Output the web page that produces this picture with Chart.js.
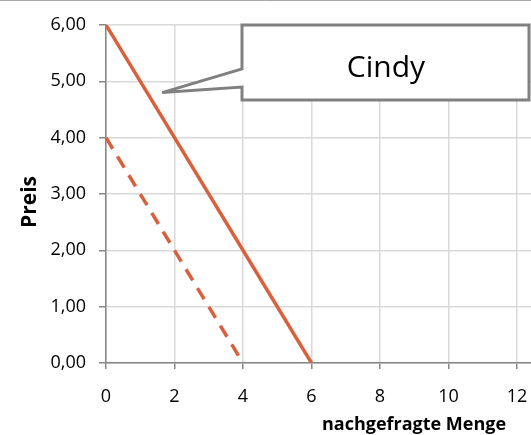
<!DOCTYPE html>
<html lang="de">
<head>
<meta charset="UTF-8">
<title>Nachfrage Cindy</title>
<script src="https://cdn.jsdelivr.net/npm/chart.js"></script>
<style>
  html, body { margin: 0; padding: 0; background: #fff; }
  #wrap { position: relative; width: 531px; height: 435px; }
</style>
</head>
<body>
<div id="wrap"><canvas id="chart" width="531" height="435"></canvas></div>
<script>
// data
const mengeCindy = [0, 6];
const preisCindy = [6, 0];
const mengeAlt = [0, 4];
const preisAlt = [4, 0];
const xTicks = [0, 2, 4, 6, 8, 10, 12];
const yTicks = [0, 1, 2, 3, 4, 5, 6];
const calloutText = 'Cindy';

const lineColor = '#d9603b';
const font = "'Open Sans', 'DejaVu Sans', sans-serif";

function toPoints(xs, ys) {
  return xs.map((x, i) => ({ x: x, y: ys[i] }));
}

// speech-bubble callout, axis titles, top frame line
const extras = {
  id: 'extras',
  afterDraw(chart) {
    const ctx = chart.ctx;
    const xs = chart.scales.x, ys = chart.scales.y;
    ctx.save();
    // top frame
    ctx.strokeStyle = '#a6a6a6';
    ctx.lineWidth = 1;
    ctx.beginPath();
    ctx.moveTo(0, 0.5); ctx.lineTo(531, 0.5);
    ctx.stroke();

    // callout box
    const tipX = xs.getPixelForValue(1.64), tipY = ys.getPixelForValue(4.8);
    const L = 242, T = 25, R = 529, B = 100;
    ctx.beginPath();
    ctx.moveTo(L, T);
    ctx.lineTo(R, T);
    ctx.lineTo(R, B);
    ctx.lineTo(L, B);
    ctx.lineTo(L, 87);
    ctx.lineTo(tipX, tipY);
    ctx.lineTo(L, 69);
    ctx.closePath();
    ctx.fillStyle = '#fff';
    ctx.fill();
    ctx.strokeStyle = '#808080';
    ctx.lineWidth = 3;
    ctx.lineJoin = 'miter';
    ctx.miterLimit = 2;
    ctx.stroke();
    ctx.fillStyle = '#000';
    ctx.font = "30px " + font;
    ctx.textAlign = 'center';
    ctx.textBaseline = 'alphabetic';
    ctx.fillText(calloutText, 386, 77);

    // x axis title
    ctx.font = "bold 18px " + font;
    ctx.fillText('nachgefragte Menge', 414, 430);

    // y axis title
    ctx.translate(36, 202);
    ctx.rotate(-Math.PI / 2);
    ctx.font = "bold 21px " + font;
    ctx.fillText('Preis', 0, 0);
    ctx.restore();
  }
};

new Chart(document.getElementById('chart'), {
  type: 'line',
  data: {
    datasets: [{
      data: toPoints(mengeCindy, preisCindy),
      borderColor: lineColor,
      borderWidth: 3.5,
      pointRadius: 0,
      fill: false
    }, {
      data: toPoints(mengeAlt, preisAlt),
      borderColor: lineColor,
      borderWidth: 3.5,
      borderDash: [13, 9],
      pointRadius: 0,
      fill: false
    }]
  },
  options: {
    responsive: false,
    animation: false,
    layout: { padding: { top: 25, right: 0, left: 0, bottom: 0 } },
    plugins: { legend: { display: false }, tooltip: { enabled: false } },
    scales: {
      x: {
        type: 'linear',
        min: 0,
        max: 12.41,
        afterBuildTicks: axis => { axis.ticks = xTicks.map(v => ({ value: v })); },
        afterFit: axis => { axis.height = 72; axis.paddingLeft = 0; axis.paddingRight = 0; },
        border: { color: '#868686', width: 1.5 },
        grid: { color: '#d9d9d9', lineWidth: 1.5, tickLength: 6, tickColor: '#868686' },
        ticks: { font: { family: font, size: 18 }, color: '#000', padding: 17, maxRotation: 0 }
      },
      y: {
        min: 0,
        max: 6,
        afterBuildTicks: axis => { axis.ticks = yTicks.map(v => ({ value: v })); },
        afterFit: axis => { axis.width = 106; axis.paddingTop = 0; axis.paddingBottom = 0; },
        border: { color: '#868686', width: 1.5 },
        grid: { color: '#d9d9d9', lineWidth: 1.5, tickLength: 7, tickColor: '#868686' },
        ticks: {
          font: { family: font, size: 18 }, color: '#000', padding: 13,
          callback: v => v.toFixed(2).replace('.', ',')
        }
      }
    }
  },
  plugins: [extras]
});
</script>
</body>
</html>
